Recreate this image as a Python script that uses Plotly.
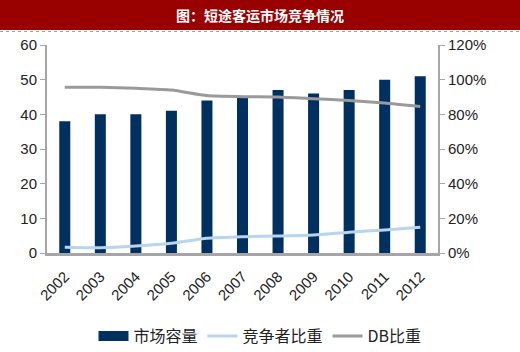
import plotly.graph_objects as go

years = ["2002", "2003", "2004", "2005", "2006", "2007", "2008", "2009", "2010", "2011", "2012"]
market_size = [38, 40, 40, 41, 44, 45, 47, 46, 47, 50, 51]
competitor_share = [0.033, 0.030, 0.040, 0.056, 0.085, 0.094, 0.098, 0.104, 0.120, 0.133, 0.148]
db_share = [0.956, 0.956, 0.950, 0.940, 0.908, 0.902, 0.900, 0.890, 0.880, 0.865, 0.845]
left_ticks = [0, 10, 20, 30, 40, 50, 60]
right_ticks = [0, 0.2, 0.4, 0.6, 0.8, 1.0, 1.2]

FONT = "Liberation Sans, Arial, Noto Sans CJK SC, sans-serif"
CJK = "Noto Sans CJK SC, Liberation Sans, sans-serif"

PW, PH, L, T = 391, 208, 47, 45
NAVY = "#00305f"

fig = go.Figure()
fig.add_trace(go.Bar(x=years, y=market_size, name="市场容量", marker_color=NAVY,
                     marker_line_width=0, width=0.31, yaxis="y", showlegend=False))
# legend entry for the bars drawn as a wide rectangle
fig.add_trace(go.Scatter(x=[None], y=[None], name="市场容量", mode="lines",
                         line=dict(color=NAVY, width=10), yaxis="y", hoverinfo="skip"))
fig.add_trace(go.Scatter(x=years, y=competitor_share, name="竞争者比重", mode="lines",
                         line=dict(color="#b8d4ee", width=3, shape="spline", smoothing=0.6), yaxis="y2"))
fig.add_trace(go.Scatter(x=years, y=db_share, name="DB比重", mode="lines",
                         line=dict(color="#9a9a9a", width=3, shape="spline", smoothing=0.6), yaxis="y2"))

fig.update_layout(
    width=520, height=352,
    margin=dict(l=47, r=82, t=45, b=99),
    paper_bgcolor="white", plot_bgcolor="white",
    font=dict(family=FONT, size=15, color="#222"),
    showlegend=True,
    xaxis=dict(type="category", showgrid=False, showline=True, linecolor="#a6a6a6", linewidth=3,
               ticks="", tickangle=-45, tickfont=dict(size=15, color="#222"), ticklabelstandoff=6),
    yaxis=dict(range=[0, 60], tickvals=left_ticks, showgrid=False, zeroline=False, showline=True,
               linecolor="#a6a6a6", linewidth=2, ticks="outside", ticklen=5, tickcolor="#a6a6a6",
               tickfont=dict(size=15, color="#222")),
    yaxis2=dict(range=[0, 1.2], tickvals=right_ticks, tickformat=".0%", overlaying="y", side="right",
                showgrid=False, zeroline=False, showline=True, linecolor="#a6a6a6", linewidth=2,
                ticks="outside", ticklen=5, tickcolor="#a6a6a6", tickfont=dict(size=15, color="#222")),
    legend=dict(orientation="h", xref="container", yref="container", x=0.5, xanchor="center",
                y=0.045, yanchor="middle", font=dict(family=CJK, size=16, color="#222"),
                itemwidth=30, tracegroupgap=0, bgcolor="rgba(0,0,0,0)"),
    shapes=[
        dict(type="rect", xref="paper", yref="paper", x0=-L/PW, x1=(520-L)/PW,
             y0=(PH + T - 30)/PH, y1=(PH + T)/PH, fillcolor="#990000", line_width=0, layer="above"),
        dict(type="line", xref="paper", yref="paper", x0=-L/PW, x1=(520-L)/PW,
             y0=(PH + T - 31.5)/PH, y1=(PH + T - 31.5)/PH, line=dict(color="#8aa6cc", width=1, dash="dot")),
    ],
    annotations=[
        dict(text="<b>图：短途客运市场竞争情况</b>", xref="paper", yref="paper", x=(260-L)/PW,
             y=(PH + T - 15)/PH, xanchor="center", yanchor="middle", showarrow=False,
             font=dict(family=CJK, size=14, color="white")),
    ],
)

fig.write_html("out.html")
